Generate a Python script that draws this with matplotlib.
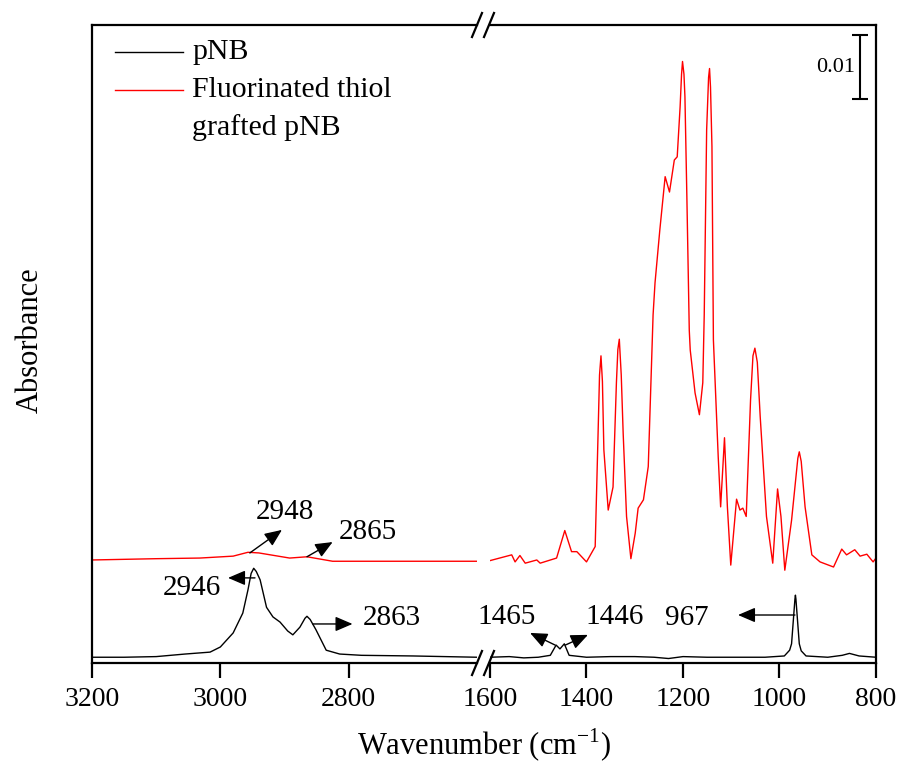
import numpy as np
import matplotlib.pyplot as plt
from matplotlib.lines import Line2D

plt.rcParams['font.family'] = 'Liberation Serif'
plt.rcParams['mathtext.fontset'] = 'custom'
plt.rcParams['mathtext.rm'] = 'Liberation Serif'

# pNB spectrum (absorbance), high wavenumber part
pnb_wn_hi = [3200, 3150, 3100, 3055, 3016, 3000, 2980, 2965, 2957, 2952, 2948, 2944, 2938, 2928,
             2918, 2907, 2895, 2887, 2876, 2868, 2865, 2860, 2851, 2835, 2814, 2780, 2700, 2600]
pnb_abs_hi = [0.0009, 0.0009, 0.0010, 0.0014, 0.0017, 0.0025, 0.0047, 0.0078, 0.0114, 0.0140,
              0.0148, 0.0143, 0.0130, 0.0087, 0.0072, 0.0064, 0.0050, 0.0044, 0.0056, 0.0070,
              0.0073, 0.0068, 0.0052, 0.0020, 0.0014, 0.0012, 0.0011, 0.0009]

# pNB spectrum, fingerprint part
pnb_wn_lo = [1600, 1560, 1530, 1500, 1475, 1463, 1455, 1446, 1436, 1400, 1350, 1300, 1260,
             1230, 1200, 1150, 1100, 1030, 990, 979, 975, 971, 968, 967, 966, 963, 959,
             955, 945, 900, 870, 855, 835, 800]
pnb_abs_lo = [0.0009, 0.0010, 0.0008, 0.0009, 0.0012, 0.0028, 0.0022, 0.0030, 0.0012, 0.0009,
              0.0010, 0.0010, 0.0009, 0.0007, 0.0010, 0.0009, 0.0009, 0.0009, 0.0011, 0.0020,
              0.0030, 0.0070, 0.0100, 0.0106, 0.0100, 0.0070, 0.0030, 0.0019, 0.0011, 0.0009,
              0.0012, 0.0015, 0.0011, 0.0009]

# fluorinated thiol grafted pNB
graft_wn_hi = [3200, 3100, 3032, 2980, 2957, 2940, 2928, 2892, 2865, 2825, 2772, 2700, 2600]
graft_abs_hi = [0.0011, 0.0013, 0.0014, 0.0017, 0.0023, 0.0022, 0.0020, 0.0014, 0.0016,
                0.0009, 0.0009, 0.0009, 0.0009]

graft_wn_lo = [1600, 1555, 1548, 1538, 1527, 1503, 1496, 1462, 1445, 1431, 1420, 1400, 1382,
               1376, 1373, 1370, 1367, 1364, 1355, 1345, 1338, 1335, 1332, 1328, 1324, 1317, 1308,
               1299, 1293, 1282, 1272, 1262, 1258, 1248, 1237, 1228, 1218, 1212, 1206, 1203,
               1201, 1198, 1196, 1192, 1187, 1185, 1175, 1166, 1159, 1156, 1151, 1147, 1145,
               1143, 1140, 1137, 1127, 1122, 1114, 1108, 1101, 1089, 1082, 1076, 1069, 1060,
               1055, 1051, 1046, 1040, 1027, 1014, 1004, 997, 989, 975, 962, 959, 955, 947,
               933, 916, 888, 871, 861, 844, 833, 819, 806, 800]
graft_abs_lo = [0.0010, 0.0019, 0.0008, 0.0018, 0.0006, 0.0011, 0.0006, 0.0014, 0.0057, 0.0024,
                0.0024, 0.0008, 0.0032, 0.0209, 0.0300, 0.0330, 0.0290, 0.0183, 0.0089, 0.0125,
                0.0288, 0.0340, 0.0356, 0.0300, 0.0209, 0.0079, 0.0013, 0.0053, 0.0092, 0.0105,
                0.0157, 0.0394, 0.0444, 0.0527, 0.0610, 0.0586, 0.0636, 0.0641, 0.0719, 0.0770,
                0.0790, 0.0770, 0.0735, 0.0579, 0.0370, 0.0339, 0.0272, 0.0238, 0.0288, 0.0394,
                0.0683, 0.0765, 0.0779, 0.0750, 0.0657, 0.0355, 0.0172, 0.0094, 0.0202, 0.0094,
                0.0003, 0.0106, 0.0089, 0.0092, 0.0079, 0.0261, 0.0330, 0.0342, 0.0320, 0.0235,
                0.0079, 0.0006, 0.0122, 0.0079, -0.0005, 0.0073, 0.0170, 0.0180, 0.0165, 0.0094,
                0.0019, 0.0008, 0.0000, 0.0028, 0.0019, 0.0027, 0.0017, 0.0020, 0.0008, 0.0014]
graft_offset = 0.015

ticks_hi = [3200, 3000, 2800]
ticks_lo = [1600, 1400, 1200, 1000, 800]

# peak labels: (text, tail on curve, arrow head, text position), y in absorbance incl. offset
labels_hi = [("2948", (2954, 0.0172), (2904, 0.0208), (2900, 0.0236)),
             ("2865", (2865, 0.0166), (2825, 0.0189), (2770, 0.0205)),
             ("2946", (2946, 0.0133), (2988, 0.0133), (3044, 0.0117)),
             ("2863", (2856, 0.0061), (2794, 0.0061), (2733, 0.0070))]
labels_lo = [("1465", (1465, 0.0028), (1517, 0.0047), (1565, 0.0072)),
             ("1446", (1444, 0.0028), (1397, 0.0044), (1341, 0.0072)),
             ("967", (968, 0.0075), (1086, 0.0075), (1192, 0.0070))]

W, H = 901, 770
fig = plt.figure(figsize=(W / 100, H / 100), dpi=100)
ax1 = fig.add_axes([92 / W, 1 - 663 / H, 385 / W, 638 / H])
ax2 = fig.add_axes([490 / W, 1 - 663 / H, 386 / W, 638 / H])

ax1.plot(pnb_wn_hi, pnb_abs_hi, color='black', lw=1)
ax1.plot(graft_wn_hi, np.array(graft_abs_hi) + graft_offset, color='red', lw=1)
ax2.plot(pnb_wn_lo, pnb_abs_lo, color='black', lw=1)
ax2.plot(graft_wn_lo, np.array(graft_abs_lo) + graft_offset, color='red', lw=1)

ax1.set_xlim(3200, 2600)
ax2.set_xlim(1600, 800)
for ax, ticks in ((ax1, ticks_hi), (ax2, ticks_lo)):
    ax.set_ylim(0, 0.0997)
    ax.set_yticks([])
    ax.set_xticks(ticks)
    ax.tick_params(axis='x', direction='out', length=11, width=1.6, labelsize=20, pad=6)
    for s in ax.spines.values():
        s.set_linewidth(1.6)
ax1.spines['right'].set_visible(False)
ax2.spines['left'].set_visible(False)

arrow = dict(arrowstyle='-|>,head_length=0.7,head_width=0.3', color='black', lw=1,
             mutation_scale=15, shrinkA=0, shrinkB=0)
for ax, labs in ((ax1, labels_hi), (ax2, labels_lo)):
    for txt, tail, head, pos in labs:
        ax.annotate('', xy=head, xytext=tail, arrowprops=arrow)
        ax.text(pos[0], pos[1], txt, fontsize=21, ha='center', va='center')

# 0.01 scale bar
ax2.errorbar([833], [0.0931], yerr=0.005, color='black', lw=1.5, capsize=6, capthick=1.5)
ax2.text(844, 0.0931, '0.01', fontsize=16, ha='right', va='center')

# axis break marks
for py in (25, 663):
    for px in (477, 489):
        fig.add_artist(Line2D([(px - 5) / W, (px + 5) / W], [1 - (py + 12) / H, 1 - (py - 12) / H],
                              color='black', lw=1.6))

# legend
leg_lines = [('black', 52), ('red', 90)]
for c, py in leg_lines:
    fig.add_artist(Line2D([115 / W, 183 / W], [1 - py / H] * 2, color=c, lw=1))
fig.text(192 / W, 1 - 52 / H, 'pNB', fontsize=21.5, va='center')
fig.text(192 / W, 1 - 90 / H, 'Fluorinated thiol', fontsize=21.5, va='center')
fig.text(192 / W, 1 - 128 / H, 'grafted pNB', fontsize=21.5, va='center')

fig.text(30 / W, 1 - 340 / H, 'Absorbance', fontsize=22, rotation=90, ha='center', va='center')
fig.text(484 / W, 1 - 745 / H, r'Wavenumber (cm$^{-1}$)', fontsize=22, ha='center', va='center')

fig.savefig('out.png', dpi=100)
